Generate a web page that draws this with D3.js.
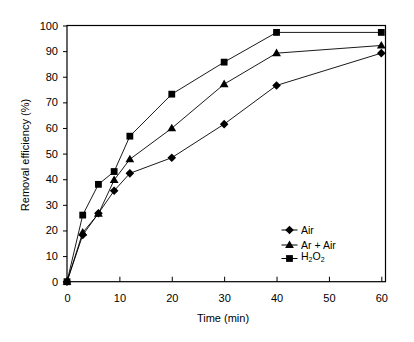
<!DOCTYPE html>
<html><head><meta charset="utf-8">
<script src="https://cdn.jsdelivr.net/npm/d3@7"></script>
<style>body{margin:0;background:#fff}svg{display:block}text{font-family:"Liberation Sans",Arial,sans-serif;fill:#000}</style>
</head><body><svg id="c" width="414" height="342"></svg>
<script>
const times = [0, 3, 6, 9, 12, 20, 30, 40, 60];
const air = [0, 18.2, 26.7, 35.5, 42.3, 48.4, 61.5, 76.6, 89.2];
const arAir = [0, 19.2, 26.5, 39.7, 47.8, 59.9, 77.1, 89.2, 92.2];
const h2o2 = [0, 26.0, 38.0, 43.0, 56.8, 73.2, 85.7, 97.3, 97.3];
const xTicks = [0, 10, 20, 30, 40, 50, 60];
const yTicks = [0, 10, 20, 30, 40, 50, 60, 70, 80, 90, 100];
const seriesNames = ["Air", "Ar + Air", "H2O2"];

const svg = d3.select("#c");
const x = d3.scaleLinear().domain([0, 60.8]).range([67, 385.5]);
const y = d3.scaleLinear().domain([0, 100]).range([281.7, 25.5]);

svg.append("rect").attr("x", x(0)).attr("y", y(100)).attr("width", x(60.8) - x(0)).attr("height", y(0) - y(100))
  .attr("fill", "none").attr("stroke", "#000").attr("stroke-width", 1.2);

const xa = svg.append("g").attr("transform", `translate(0,${y(0)})`)
  .call(d3.axisBottom(x).tickValues(xTicks).tickSizeInner(-5).tickSizeOuter(0).tickPadding(13));
xa.select(".domain").remove();
xa.selectAll("text").attr("font-size", 11).attr("font-family", "Liberation Sans, Arial, sans-serif");

const ya = svg.append("g").attr("transform", `translate(${x(0)},0)`)
  .call(d3.axisLeft(y).tickValues(yTicks).tickSizeInner(4).tickSizeOuter(0).tickPadding(5));
ya.select(".domain").remove();
ya.selectAll("text").attr("font-size", 11).attr("font-family", "Liberation Sans, Arial, sans-serif");

svg.append("text").attr("x", 223).attr("y", 322).attr("text-anchor", "middle").attr("font-size", 11).text("Time (min)");
svg.append("text").attr("transform", "translate(25,155) rotate(-90)").attr("text-anchor", "middle").attr("dy", "0.35em").attr("font-size", 11).text("Removal efficiency (%)");

const diamond = "M0,-4.3L4.3,0L0,4.3L-4.3,0Z";
const triangle = "M0,-4.6L4.4,3L-4.4,3Z";
const square = "M-3.4,-3.4H3.4V3.4H-3.4Z";
const syms = [diamond, triangle, square];

const line = d3.line().x((d, i) => x(times[i])).y(d => y(d));
const datas = [air, arAir, h2o2];

datas.forEach((data, k) => {
  svg.append("path").datum(data).attr("d", line).attr("fill", "none").attr("stroke", "#000").attr("stroke-width", 0.9);
  svg.append("g").selectAll("path").data(data).join("path")
    .attr("transform", (d, i) => `translate(${x(times[i])},${y(d)})`)
    .attr("d", syms[k]).attr("fill", "#000");
});

const ly = [230, 245, 258.5];
seriesNames.forEach((name, k) => {
  const g = svg.append("g");
  g.append("line").attr("x1", 281.5).attr("x2", 297.5).attr("y1", ly[k]).attr("y2", ly[k]).attr("stroke", "#000");
  g.append("path").attr("transform", `translate(289.5,${ly[k]})`).attr("d", syms[k]).attr("fill", "#000");
  const t = g.append("text").attr("x", 301).attr("y", ly[k]).attr("font-size", 10.5);
  if (k === 2) {
    t.attr("y", ly[k] + 1);
    t.append("tspan").text("H");
    t.append("tspan").attr("font-size", 7).attr("dy", 2).text("2");
    t.append("tspan").attr("dy", -2).text("O");
    t.append("tspan").attr("font-size", 7).attr("dy", 2).text("2");
  } else { t.attr("dy", "0.35em").text(name); }
});
</script></body></html>
